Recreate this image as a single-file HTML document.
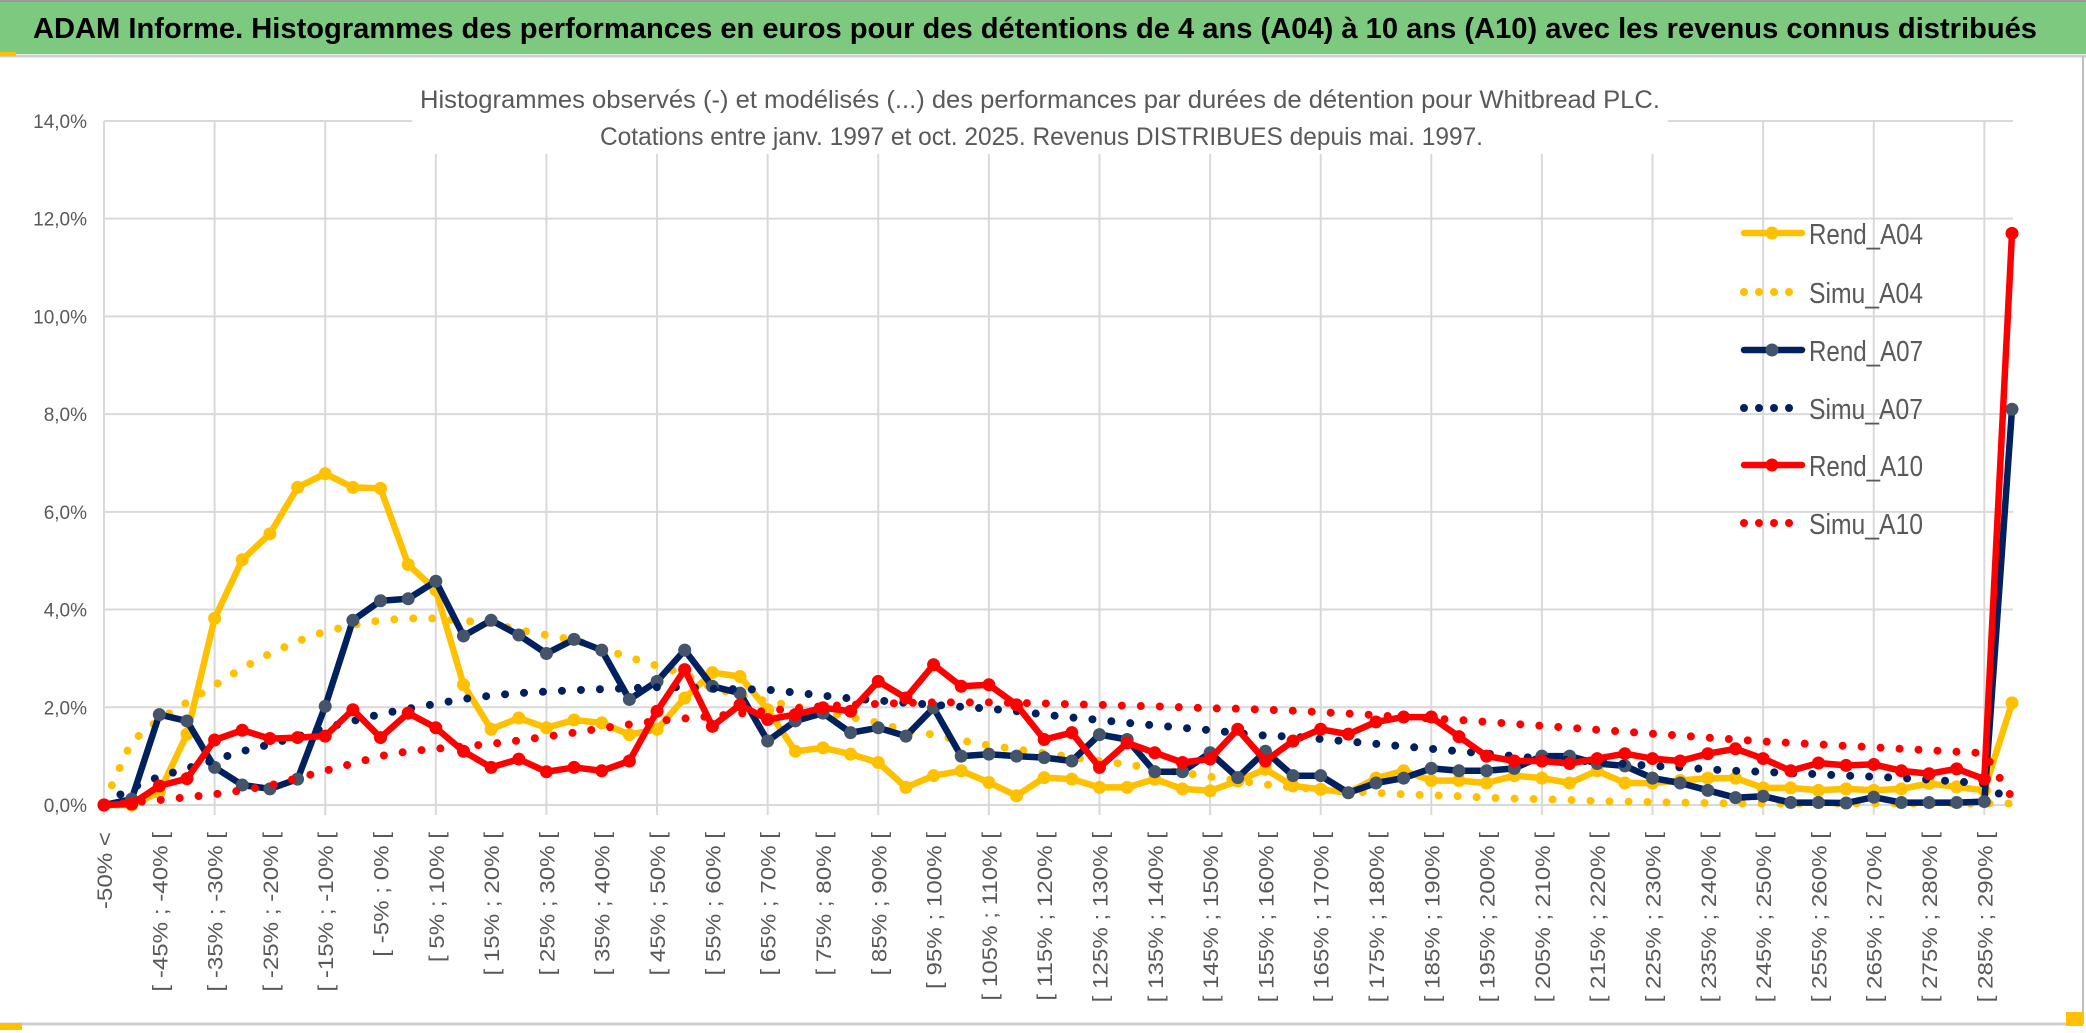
<!DOCTYPE html>
<html><head><meta charset="utf-8"><style>
html,body{margin:0;padding:0;background:#fff;}
svg{display:block;}
text{font-family:"Liberation Sans",sans-serif;}
</style></head><body>
<svg id="chart" width="2086" height="1033" viewBox="0 0 2086 1033" xmlns="http://www.w3.org/2000/svg">
<rect x="0" y="0" width="2086" height="1033" fill="#fff"/>
<rect x="0" y="2" width="2086" height="52" fill="#7dc97f"/>
<line x1="0" y1="1" x2="2086" y2="1" stroke="#9a9a9a" stroke-width="2"/>
<line x1="0" y1="56" x2="2086" y2="56" stroke="#d0d0d0" stroke-width="3"/>
<rect x="0" y="52" width="16" height="4" fill="#ffc000"/>
<text x="33" y="38" font-size="29" font-weight="bold" fill="#000" textLength="2004" lengthAdjust="spacingAndGlyphs">ADAM Informe. Histogrammes des performances en euros pour des détentions de 4 ans (A04) à 10 ans (A10) avec les revenus connus distribués</text>
<line x1="2083" y1="56" x2="2083" y2="1024" stroke="#bfbfbf" stroke-width="2"/>
<line x1="0" y1="1024" x2="2083" y2="1024" stroke="#cfcfcf" stroke-width="3"/>
<rect x="0" y="1023" width="22" height="7" fill="#ffc000"/>
<rect x="2066" y="1012" width="17" height="14" fill="#ffc000"/>
<g id="grid"></g>
<rect x="412" y="78" width="1256" height="76" fill="#fff"/>
<text x="420" y="108" font-size="25" fill="#595959" textLength="1240" lengthAdjust="spacingAndGlyphs">Histogrammes observés (-) et modélisés (...) des performances par durées de détention pour Whitbread PLC.</text>
<text x="600" y="145" font-size="25" fill="#595959" textLength="883" lengthAdjust="spacingAndGlyphs">Cotations entre janv. 1997 et oct. 2025. Revenus DISTRIBUES depuis mai. 1997.</text>
<g id="xlabels"></g>
<g id="series"></g>
<g id="legend"></g>
</svg>
<script>
const categories = ["-50% <"];
for (let k = 1; k <= 69; k++) { const a = -55 + 5 * k; categories.push("[ " + a + "% ; " + (a + 5) + "% ["); }
categories[69] = "> 290%";
const yTicks = [0, 2, 4, 6, 8, 10, 12, 14];
const yTickLabels = ["0,0%", "2,0%", "4,0%", "6,0%", "8,0%", "10,0%", "12,0%", "14,0%"];
const rendA04 = [0,0,0.26,1.45,3.82,5.02,5.55,6.5,6.78,6.5,6.48,4.92,4.4,2.46,1.55,1.78,1.58,1.74,1.68,1.44,1.55,2.19,2.71,2.63,1.95,1.1,1.17,1.04,0.87,0.36,0.6,0.7,0.46,0.19,0.56,0.53,0.36,0.36,0.53,0.33,0.29,0.49,0.73,0.39,0.32,0.25,0.55,0.7,0.5,0.5,0.45,0.6,0.55,0.45,0.7,0.45,0.45,0.5,0.55,0.55,0.35,0.35,0.3,0.33,0.3,0.33,0.44,0.37,0.3,2.09];
const simuA04 = [0.05,1.3,1.75,2.1,2.45,2.8,3.1,3.35,3.55,3.68,3.78,3.82,3.82,3.77,3.72,3.58,3.48,3.38,3.2,3.02,2.85,2.68,2.4,2.25,2.12,2.02,1.9,1.8,1.68,1.52,1.44,1.32,1.22,1.14,1.06,0.98,0.9,0.83,0.74,0.66,0.58,0.5,0.42,0.36,0.32,0.28,0.25,0.22,0.2,0.18,0.15,0.13,0.12,0.1,0.08,0.07,0.06,0.05,0.04,0.03,0.03,0.03,0.03,0.03,0.03,0.03,0.03,0.03,0.03,0.03];
const rendA07 = [0,0.12,1.85,1.72,0.77,0.41,0.33,0.53,2.02,3.78,4.18,4.22,4.58,3.46,3.78,3.48,3.1,3.39,3.17,2.16,2.53,3.17,2.43,2.29,1.31,1.72,1.88,1.48,1.58,1.41,1.99,1.0,1.04,1.0,0.97,0.9,1.44,1.34,0.68,0.68,1.07,0.56,1.1,0.6,0.6,0.25,0.45,0.55,0.75,0.7,0.7,0.75,1.0,1.0,0.85,0.8,0.55,0.45,0.3,0.15,0.18,0.05,0.05,0.04,0.16,0.05,0.05,0.05,0.07,8.1];
const simuA07 = [0.02,0.35,0.58,0.75,0.92,1.1,1.24,1.4,1.58,1.72,1.86,1.97,2.07,2.17,2.24,2.29,2.32,2.35,2.37,2.39,2.41,2.41,2.38,2.37,2.36,2.3,2.24,2.18,2.14,2.09,2.05,2.01,1.97,1.92,1.85,1.79,1.74,1.68,1.63,1.58,1.53,1.47,1.42,1.4,1.35,1.3,1.25,1.2,1.15,1.1,1.05,1.0,0.95,0.92,0.88,0.84,0.8,0.77,0.73,0.7,0.68,0.65,0.63,0.6,0.58,0.55,0.52,0.48,0.44,0.05];
const rendA10 = [0,0.02,0.39,0.54,1.33,1.53,1.36,1.38,1.41,1.95,1.38,1.88,1.58,1.1,0.77,0.94,0.68,0.77,0.7,0.9,1.92,2.77,1.61,2.05,1.75,1.85,1.99,1.92,2.53,2.19,2.87,2.43,2.46,2.05,1.34,1.48,0.77,1.27,1.07,0.87,0.94,1.55,0.9,1.31,1.55,1.45,1.7,1.8,1.8,1.4,1.0,0.9,0.9,0.85,0.95,1.05,0.95,0.9,1.05,1.15,0.95,0.7,0.86,0.81,0.83,0.7,0.64,0.74,0.53,11.7];
const simuA10 = [0,0.05,0.1,0.16,0.22,0.3,0.4,0.55,0.7,0.85,1.0,1.1,1.15,1.2,1.25,1.32,1.4,1.48,1.57,1.65,1.72,1.77,1.82,1.87,1.93,1.98,2.02,2.05,2.07,2.09,2.1,2.1,2.1,2.09,2.08,2.06,2.05,2.03,2.02,2.0,1.98,1.97,1.95,1.93,1.9,1.87,1.84,1.8,1.77,1.74,1.7,1.66,1.62,1.58,1.54,1.5,1.46,1.42,1.38,1.34,1.3,1.27,1.24,1.21,1.18,1.15,1.12,1.09,1.06,0.15];
const seriesNames = ["Rend_A04","Simu_A04","Rend_A07","Simu_A07","Rend_A10","Simu_A10"];

const NS = "http://www.w3.org/2000/svg";
const X0 = 104, X1 = 2012, Y0 = 805, YPER = 48.86, XMAXR = 2013;
const step = (X1 - X0) / (categories.length - 1);
function xs(i) { return X0 + i * step; }
function ys(v) { return Y0 - v * YPER; }
function mk(tag, attrs, parent) { const e = document.createElementNS(NS, tag); for (const k in attrs) e.setAttribute(k, attrs[k]); parent.appendChild(e); return e; }

const grid = document.getElementById("grid");
yTicks.forEach((t, j) => {
  const l = mk("line", {x1: X0, x2: XMAXR, y1: ys(t), y2: ys(t), stroke: "#d9d9d9", "stroke-width": 2}, grid);
  
  
  const tx = mk("text", {x: 87, y: ys(t) + 7, "font-size": 19, fill: "#595959", "text-anchor": "end"}, grid);
  tx.textContent = yTickLabels[j];
  
  
});
for (let i = 0; i < categories.length; i += 4) {
  const l = mk("line", {x1: xs(i), x2: xs(i), y1: ys(14), y2: Y0 + 10, stroke: "#d9d9d9", "stroke-width": 2}, grid);
  
  
}
const xl = document.getElementById("xlabels");
for (let i = 0; i < categories.length; i += 2) {
  if (i === 69) continue;
  const t = mk("text", {transform: "translate(" + (xs(i) + 8) + ",832) rotate(-90) scale(1.15,1)", "font-size": 21, fill: "#595959", "text-anchor": "end"}, xl);
  t.textContent = categories[i];
  
  
}

const sg = document.getElementById("series");
function pts(arr) { return arr.map((v, i) => xs(i).toFixed(1) + "," + ys(v).toFixed(1)).join(" "); }
function drawRend(arr, color, mcol, name) {
  const g = mk("g", {}, sg);
  
  
  mk("polyline", {points: pts(arr), fill: "none", stroke: color, "stroke-width": 6.5, "stroke-linejoin": "round"}, g);
  arr.forEach((v, i) => {
    const c = mk("circle", {cx: xs(i), cy: ys(v), r: 6.5, fill: mcol}, g);
    
    
  });
}
function drawSimu(arr, color, name) {
  const p = mk("polyline", {points: pts(arr), fill: "none", stroke: color, "stroke-width": 8, "stroke-linecap": "round", "stroke-dasharray": "0 19"}, sg);
  
  
}
drawRend(rendA04, "#ffc000", "#ffc000", "series-rend-a04");
drawSimu(simuA04, "#ffc000", "series-simu-a04");
drawRend(rendA07, "#002060", "#44546a", "series-rend-a07");
drawSimu(simuA07, "#002060", "series-simu-a07");
drawRend(rendA10, "#ff0000", "#ff0000", "series-rend-a10");
drawSimu(simuA10, "#ff0000", "series-simu-a10");

const lg = document.getElementById("legend");
const legColors = ["#ffc000","#ffc000","#002060","#002060","#ff0000","#ff0000"];
const legMarker = ["#ffc000",null,"#44546a",null,"#ff0000",null];
const legY = [233, 292, 350, 408, 465, 523];
seriesNames.forEach((n, k) => {
  const g = mk("g", {}, lg);
  
  
  const y = legY[k];
  if (legMarker[k]) {
    mk("line", {x1: 1744, x2: 1802, y1: y, y2: y, stroke: legColors[k], "stroke-width": 6.5, "stroke-linecap": "round"}, g);
    mk("circle", {cx: 1772, cy: y, r: 6.5, fill: legMarker[k]}, g);
  } else {
    mk("line", {x1: 1744, x2: 1802, y1: y, y2: y, stroke: legColors[k], "stroke-width": 8, "stroke-linecap": "round", "stroke-dasharray": "0 15"}, g);
  }
  const t = mk("text", {x: 1809, y: y + 11, "font-size": 29, fill: "#595959", textLength: 114, lengthAdjust: "spacingAndGlyphs"}, g);
  t.textContent = n;
});
</script>
</body></html>
